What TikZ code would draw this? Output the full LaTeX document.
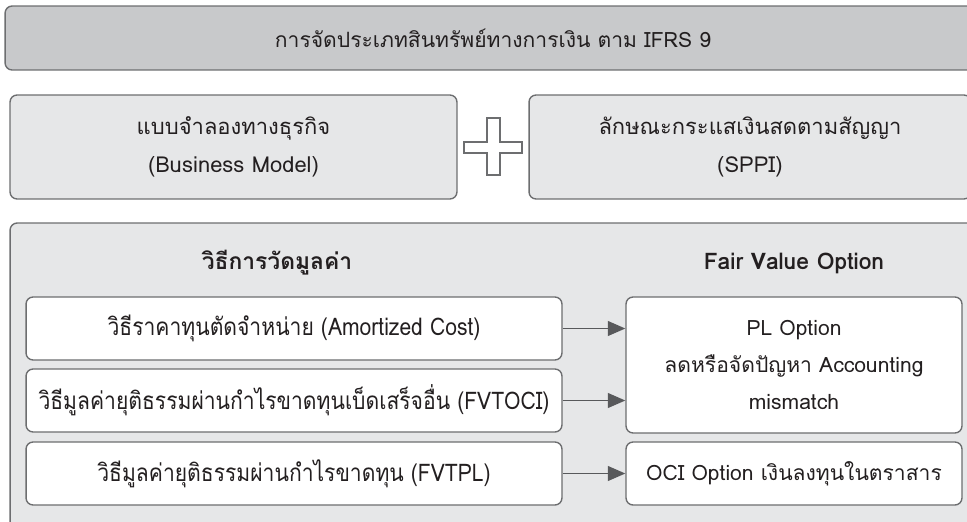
\documentclass[tikz,border=0pt]{standalone}
\usepackage{fontspec}
\setmainfont[Script=Thai]{Loma}
\newfontfamily\narrowthai[Script=Thai,FakeStretch=0.87]{Loma}
\usetikzlibrary{arrows.meta}

\definecolor{edgegray}{HTML}{6D6E70}
\definecolor{darkfill}{HTML}{C8C9CB}
\definecolor{lightfill}{HTML}{E6E7E8}
\definecolor{inkgray}{HTML}{231F20}
\definecolor{tipgray}{HTML}{58595B}

\begin{document}
\begin{tikzpicture}[x=0.02cm,y=-0.02cm,text=inkgray]
    \tikzstyle{panel}=[draw=edgegray,line width=0.8pt,rounded corners=4pt,inner sep=0pt,align=center]
    \tikzstyle{method}=[panel,fill=white,minimum width=10.72cm,minimum height=1.26cm,font=\narrowthai\fontsize{13.8}{21}\selectfont]
    \tikzstyle{option}=[panel,fill=white,minimum width=6.72cm,font=\fontsize{12}{21}\selectfont]
    \tikzstyle{test}=[panel,fill=lightfill,minimum height=2.08cm,font=\fontsize{12.5}{21.5}\selectfont]
    \tikzstyle{head}=[font=\fontsize{13}{16}\selectfont\bfseries]
    \tikzstyle{link}=[draw=tipgray,line width=0.85pt,-{Triangle[length=10pt,width=8.5pt]}]

    \useasboundingbox (0,0) rectangle (967,521);
    \clip (0,0) rectangle (967,521);

    % heading band
    \node[panel,fill=darkfill,minimum width=19.52cm,minimum height=1.28cm,font=\fontsize{12}{15}\selectfont](title) at (493,38)
      {การจัดประเภทสินทรัพย์ทางการเงิน ตาม IFRS 9};

    % the two tests
    \node[test,minimum width=8.94cm](bm) at (233.5,147)
      {แบบจำลองทางธุรกิจ\\(Business Model)};
    \node[test,minimum width=8.84cm](sppi) at (750,147)
      {ลักษณะกระแสเงินสดตามสัญญา\\(SPPI)};
    \draw[edgegray,fill=white,line width=0.6pt]
      (487,118) -- (500,118) -- (500,142) -- (522,142) -- (522,153) -- (500,153)
      -- (500,175) -- (487,175) -- (487,153) -- (464,153) -- (464,142) -- (487,142) -- cycle;

    % measurement panel
    \node[panel,fill=lightfill,minimum width=19.4cm,minimum height=6.36cm](frame) at (495,382){};
    \node[head](meas) at (277,263){วิธีการวัดมูลค่า};
    \node[head](fvo) at (794,263){Fair Value Option};

    \node[method](ac) at (294,328.5){วิธีราคาทุนตัดจำหน่าย (Amortized Cost)};
    \node[method](fvoci) at (294,400.5){วิธีมูลค่ายุติธรรมผ่านกำไรขาดทุนเบ็ดเสร็จอื่น (FVTOCI)};
    \node[method](fvtpl) at (294,473.5){วิธีมูลค่ายุติธรรมผ่านกำไรขาดทุน (FVTPL)};

    \node[option,minimum height=2.72cm](pl) at (794,365)
      {PL Option\\ลดหรือจัดปัญหา Accounting\\mismatch};
    \node[option,minimum height=1.26cm](oci) at (794,473.5){OCI Option เงินลงทุนในตราสาร};

    \draw[link] (ac.east) -- (ac.east -| pl.west);
    \draw[link] (fvoci.east) -- (fvoci.east -| pl.west);
    \draw[link] (fvtpl.east) -- (oci.west);
\end{tikzpicture}
\end{document}
